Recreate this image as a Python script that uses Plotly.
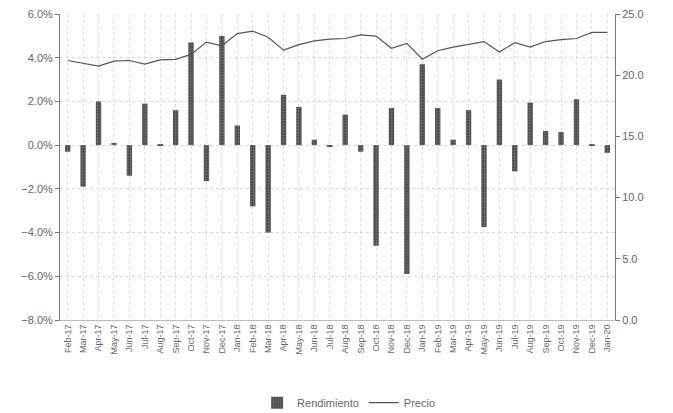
import plotly.graph_objects as go

months = ["Feb-17","Mar-17","Apr-17","May-17","Jun-17","Jul-17","Aug-17","Sep-17","Oct-17","Nov-17","Dec-17",
          "Jan-18","Feb-18","Mar-18","Apr-18","May-18","Jun-18","Jul-18","Aug-18","Sep-18","Oct-18","Nov-18","Dec-18",
          "Jan-19","Feb-19","Mar-19","Apr-19","May-19","Jun-19","Jul-19","Aug-19","Sep-19","Oct-19","Nov-19","Dec-19",
          "Jan-20"]

rendimiento = [-0.3, -1.9, 2.0, 0.1, -1.4, 1.9, 0.05, 1.6, 4.7, -1.65, 5.0,
               0.9, -2.8, -4.0, 2.3, 1.75, 0.25, -0.05, 1.4, -0.3, -4.6, 1.7, -5.9,
               3.7, 1.7, 0.25, 1.6, -3.75, 3.0, -1.2, 1.95, 0.65, 0.6, 2.1, 0.05,
               -0.35]

precio = [21.2, 21.0, 20.75, 21.15, 21.2, 20.9, 21.25, 21.3, 21.7, 22.7, 22.4,
          23.4, 23.6, 23.1, 22.05, 22.5, 22.8, 22.95, 23.0, 23.3, 23.2, 22.2, 22.6,
          21.3, 22.0, 22.3, 22.5, 22.75, 21.9, 22.65, 22.3, 22.75, 22.9, 23.0, 23.5,
          23.5]

fig = go.Figure()
fig.add_trace(go.Bar(
    x=months, y=rendimiento, name="Rendimiento",
    marker=dict(color="#4d4d4d", line=dict(width=0),
                pattern=dict(shape=".", fgcolor="#9a9a9a", size=3, solidity=0.3)),
    yaxis="y"))
fig.add_trace(go.Scatter(
    x=months, y=precio, name="Precio", mode="lines",
    line=dict(color="#555555", width=1.2), yaxis="y2"))

fig.update_layout(
    width=673, height=413,
    margin=dict(l=60, r=58, t=14, b=93, autoexpand=False),
    paper_bgcolor="white", plot_bgcolor="white",
    font=dict(family="Liberation Sans, Arial, sans-serif", size=11, color="#666666"),
    bargap=0.65,
    showlegend=True,
    legend=dict(orientation="h", x=0.52, xanchor="center", yref="container",
                y=0.025, yanchor="middle",
                font=dict(size=11, color="#666666")),
    xaxis=dict(tickangle=-90, tickfont=dict(size=9), showgrid=True,
               gridcolor="#dddddd", griddash="dot", showline=True,
               linecolor="#bbbbbb", ticks="", mirror=False, automargin=False),
    yaxis=dict(range=[-8, 6], dtick=2, tickformat=".1f", ticksuffix="%",
               showgrid=True, gridcolor="#d8d8d8", griddash="dot",
               showline=True, linecolor="#777777", ticks="outside",
               ticklen=4, tickcolor="#777777", zeroline=False, automargin=False),
    yaxis2=dict(range=[0, 25], dtick=5, tickformat=".1f", overlaying="y",
                side="right", showgrid=False, showline=True,
                linecolor="#777777", ticks="outside", ticklen=4,
                tickcolor="#777777", zeroline=False, automargin=False),
)

fig.write_html("out.html",
               config={"displayModeBar": False},
               post_script="document.body.style.margin='0';document.documentElement.style.margin='0';")
